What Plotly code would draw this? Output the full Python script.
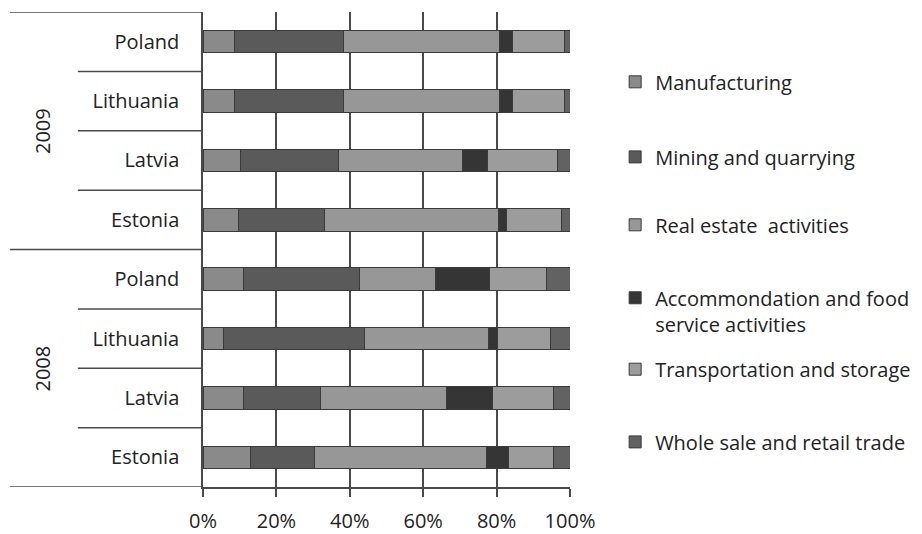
import plotly.graph_objects as go

years = ["2008", "2008", "2008", "2008", "2009", "2009", "2009", "2009"]
countries = ["Estonia", "Latvia", "Lithuania", "Poland", "Estonia", "Latvia", "Lithuania", "Poland"]

sectors = ["Manufacturing", "Mining and quarrying", "Real estate  activities",
           "Accommondation and food<br>service activities", "Transportation and storage",
           "Whole sale and retail trade"]

# shares in % (bottom row first: Estonia 2008 ... Poland 2009)
manufacturing = [13.0, 11.0, 5.7, 11.0, 9.6, 10.1, 8.7, 8.7]
mining = [17.5, 20.9, 38.4, 31.6, 23.4, 26.8, 29.5, 29.5]
real_estate = [46.8, 34.5, 33.6, 20.8, 47.5, 33.9, 42.5, 42.5]
accommodation = [5.9, 12.5, 2.5, 14.8, 2.2, 6.7, 3.6, 3.6]
transportation = [12.4, 16.7, 14.5, 15.4, 15.0, 19.0, 14.3, 14.3]
wholesale = [4.4, 4.4, 5.3, 6.4, 2.3, 3.5, 1.4, 1.4]

series = [manufacturing, mining, real_estate, accommodation, transportation, wholesale]
colors = ["#8a8a8a", "#5a5a5a", "#979797", "#353535", "#9c9c9c", "#626262"]

ypos = list(range(len(countries)))

FONT = "Open Sans"
FS = 20

# legend entry positions (paper y, middle of each entry)
legend_y = [0.853, 0.695, 0.552, 0.371, 0.248, 0.095]
legend_names = ["legend", "legend2", "legend3", "legend4", "legend5", "legend6"]

fig = go.Figure()
for i, (name, vals, col) in enumerate(zip(sectors, series, colors)):
    fig.add_trace(go.Bar(
        y=ypos, x=vals, name=name, orientation="h", width=0.38,
        marker=dict(color=col, line=dict(color="#3a3a3a", width=1)),
        legend=legend_names[i], showlegend=True,
    ))

line_col = "#4a4a4a"
shapes = []
for yy, x0 in [(-0.5, -0.526), (3.5, -0.526), (7.5, -0.526)]:
    shapes.append(dict(type="line", xref="paper", yref="y", x0=x0, x1=0, y0=yy, y1=yy,
                       line=dict(color=line_col, width=1.5)))
for yy in [0.5, 1.5, 2.5, 4.5, 5.5, 6.5]:
    shapes.append(dict(type="line", xref="paper", yref="y", x0=-0.341, x1=0, y0=yy, y1=yy,
                       line=dict(color=line_col, width=1.5)))

annotations = []
for yy, txt in [(1.5, years[0]), (5.5, years[4])]:
    annotations.append(dict(xref="paper", yref="y", x=-0.438, y=yy, text=txt, textangle=-90,
                            xanchor="center", yanchor="middle",
                            showarrow=False, font=dict(family=FONT, size=FS, color="#222")))

legend_style = dict(x=1.123, xanchor="left", yanchor="middle", valign="top",
                    font=dict(family=FONT, size=FS, color="#222"), itemwidth=30,
                    bgcolor="rgba(0,0,0,0)")
legends = {}
for ln, ly in zip(legend_names, legend_y):
    legends[ln] = dict(legend_style, y=ly)

fig.update_layout(
    barmode="stack",
    showlegend=True,
    width=922, height=534,
    margin=dict(l=203, r=352, t=12, b=47, autoexpand=False),
    paper_bgcolor="white", plot_bgcolor="white",
    font=dict(family=FONT, size=FS, color="#222"),
    shapes=shapes, annotations=annotations,
    **legends,
)
fig.update_xaxes(range=[0, 100], tickvals=[0, 20, 40, 60, 80, 100],
                 ticktext=["0%", "20%", "40%", "60%", "80%", "100%"],
                 showgrid=True, gridcolor=line_col, gridwidth=1.5,
                 showline=True, linecolor=line_col, linewidth=1.5,
                 ticks="outside", ticklen=8, tickcolor=line_col, tickwidth=1.5,
                 ticklabelstandoff=7, zeroline=False, layer="below traces",
                 automargin=False)
fig.update_yaxes(range=[-0.5, 7.5], tickvals=ypos, ticktext=countries,
                 showgrid=False, showline=True, linecolor=line_col, linewidth=1.5,
                 ticks="", ticklabelstandoff=18, zeroline=False, automargin=False)

fig.write_html("out.html")
